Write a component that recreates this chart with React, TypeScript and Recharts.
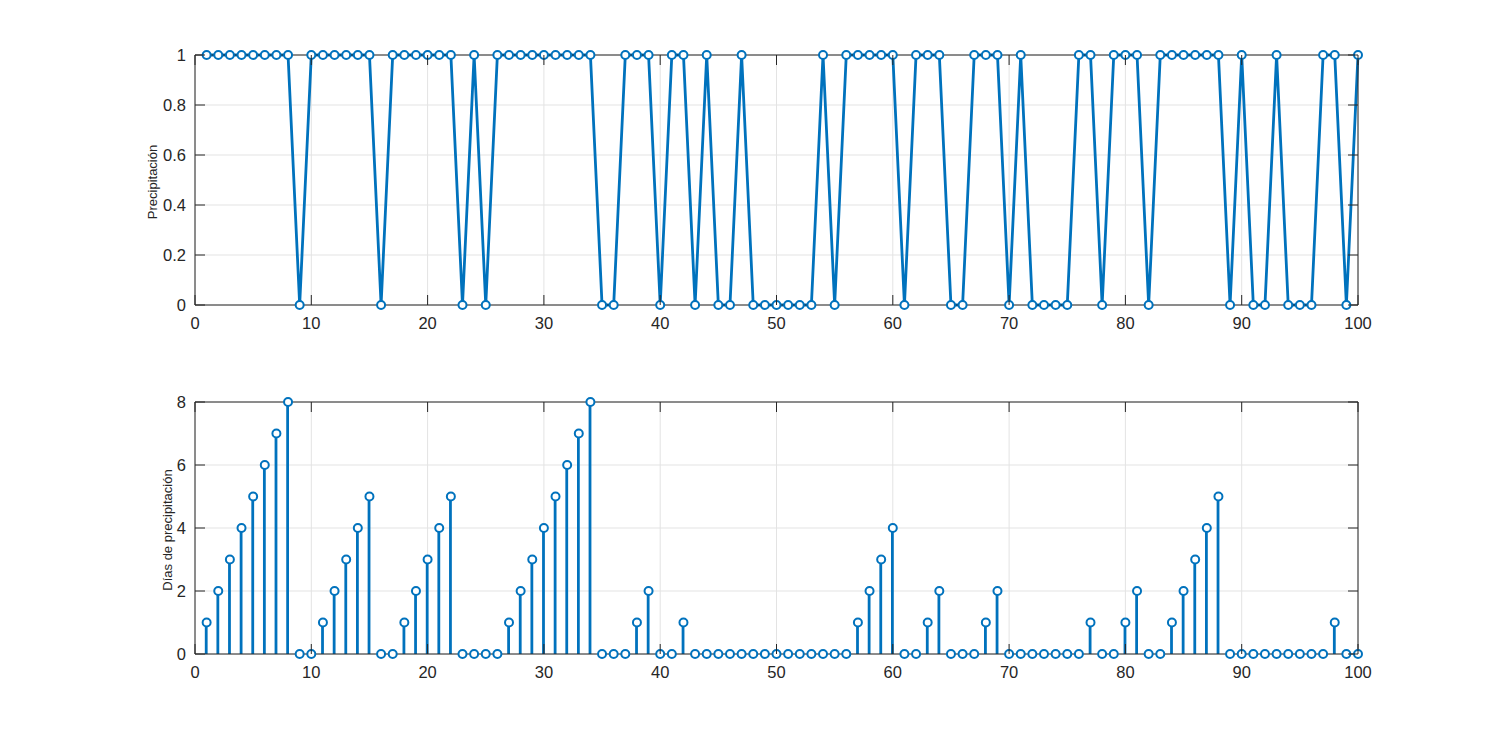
import React from 'react';
import { ComposedChart, LineChart, Line, Bar, Scatter, XAxis, YAxis, CartesianGrid } from 'recharts';

const days = Array.from({ length: 100 }, (_, i) => i + 1);

const precipitation = [
  1, 1, 1, 1, 1, 1, 1, 1, 0, 1,
  1, 1, 1, 1, 1, 0, 1, 1, 1, 1,
  1, 1, 0, 1, 0, 1, 1, 1, 1, 1,
  1, 1, 1, 1, 0, 0, 1, 1, 1, 0,
  1, 1, 0, 1, 0, 0, 1, 0, 0, 0,
  0, 0, 0, 1, 0, 1, 1, 1, 1, 1,
  0, 1, 1, 1, 0, 0, 1, 1, 1, 0,
  1, 0, 0, 0, 0, 1, 1, 0, 1, 1,
  1, 0, 1, 1, 1, 1, 1, 1, 0, 1,
  0, 0, 1, 0, 0, 0, 1, 1, 0, 1,
];

const rainDays = [
  1, 2, 3, 4, 5, 6, 7, 8, 0, 0,
  1, 2, 3, 4, 5, 0, 0, 1, 2, 3,
  4, 5, 0, 0, 0, 0, 1, 2, 3, 4,
  5, 6, 7, 8, 0, 0, 0, 1, 2, 0,
  0, 1, 0, 0, 0, 0, 0, 0, 0, 0,
  0, 0, 0, 0, 0, 0, 1, 2, 3, 4,
  0, 0, 1, 2, 0, 0, 0, 1, 2, 0,
  0, 0, 0, 0, 0, 0, 1, 0, 0, 1,
  2, 0, 0, 1, 2, 3, 4, 5, 0, 0,
  0, 0, 0, 0, 0, 0, 0, 1, 0, 0,
];

const xTicks = [0, 10, 20, 30, 40, 50, 60, 70, 80, 90, 100];
const topYTicks = [0, 0.2, 0.4, 0.6, 0.8, 1];
const bottomYTicks = [0, 2, 4, 6, 8];

const topData = days.map((d, i) => ({ day: d, p: precipitation[i] }));
const bottomData = days.map((d, i) => ({ day: d, n: rainDays[i] }));

const BLUE = '#0072BD';
const AXIS = '#262626';
const GRID = '#e3e3e3';
const FONT = '"Liberation Sans", Arial, Helvetica, sans-serif';
const TICK_LEN = 10;
const TICK_FONT = 16.5;

const BottomTick = (props: any) => {
  const { x, y, payload } = props;
  return (
    <g>
      <line x1={x} x2={x} y1={y} y2={y - TICK_LEN} stroke={AXIS} strokeWidth={1} />
      <text x={x} y={y + 18} textAnchor="middle" dominantBaseline="central" fontSize={TICK_FONT} fill={AXIS} fontFamily={FONT}>
        {payload.value}
      </text>
    </g>
  );
};

const TopTick = (props: any) => {
  const { x, y } = props;
  return <line x1={x} x2={x} y1={y} y2={y + TICK_LEN} stroke={AXIS} strokeWidth={1} />;
};

const LeftTick = (props: any) => {
  const { x, y, payload } = props;
  return (
    <g>
      <line x1={x} x2={x + TICK_LEN} y1={y} y2={y} stroke={AXIS} strokeWidth={1} />
      <text x={x - 9} y={y} textAnchor="end" dominantBaseline="central" fontSize={TICK_FONT} fill={AXIS} fontFamily={FONT}>
        {String(payload.value)}
      </text>
    </g>
  );
};

const RightTick = (props: any) => {
  const { x, y } = props;
  return <line x1={x} x2={x - TICK_LEN} y1={y} y2={y} stroke={AXIS} strokeWidth={1} />;
};

const yLabel = (text: string, cx: number, cy: number) => () => (
  <text
    x={cx}
    y={cy}
    transform={`rotate(-90 ${cx} ${cy})`}
    textAnchor="middle"
    dominantBaseline="central"
    fontSize={13}
    fill={AXIS}
    fontFamily={FONT}
  >
    {text}
  </text>
);

const marker = (props: any) => {
  const { cx, cy } = props;
  if (cx == null || cy == null) return <g />;
  return <circle cx={cx} cy={cy} r={4} fill="#fff" stroke={BLUE} strokeWidth={2} />;
};

const axisLine = { stroke: AXIS, strokeWidth: 1 };

// MATLAB-style box: bottom/left labelled, top/right only inward ticks
const boxAxes = (yDomain: number[], yTicks: number[], label: any) => [
  <XAxis
    key="xb"
    xAxisId="b"
    dataKey="day"
    type="number"
    domain={[0, 100]}
    ticks={xTicks}
    height={40}
    tickSize={0}
    tickMargin={0}
    tick={<BottomTick />}
    axisLine={axisLine}
    tickLine={false}
  />,
  <XAxis
    key="xt"
    xAxisId="t"
    orientation="top"
    dataKey="day"
    type="number"
    domain={[0, 100]}
    ticks={xTicks}
    height={1}
    tickSize={0}
    tickMargin={0}
    tick={<TopTick />}
    axisLine={axisLine}
    tickLine={false}
  />,
  <YAxis
    key="yl"
    yAxisId="l"
    type="number"
    domain={yDomain}
    ticks={yTicks}
    width={60}
    tickSize={0}
    tickMargin={0}
    tick={<LeftTick />}
    axisLine={axisLine}
    tickLine={false}
    label={label}
  />,
  <YAxis
    key="yr"
    yAxisId="r"
    orientation="right"
    type="number"
    domain={yDomain}
    ticks={yTicks}
    width={1}
    tickSize={0}
    tickMargin={0}
    tick={<RightTick />}
    axisLine={axisLine}
    tickLine={false}
  />,
];

export default function App() {
  return (
    <div style={{ position: 'absolute', left: 0, top: 0, width: 1500, height: 735, background: '#fff' }}>
      <LineChart width={1500} height={360} data={topData} margin={{ top: 54, right: 141, bottom: 15, left: 135 }}>
        <CartesianGrid xAxisId="b" yAxisId="l" stroke={GRID} strokeWidth={1} />
        {boxAxes([0, 1], topYTicks, { content: yLabel('Precipitación', 152, 182) })}
        <Line
          xAxisId="t"
          yAxisId="r"
          dataKey="p"
          stroke="none"
          dot={false}
          activeDot={false}
          isAnimationActive={false}
        />
        <Line
          xAxisId="b"
          yAxisId="l"
          type="linear"
          dataKey="p"
          stroke={BLUE}
          strokeWidth={2.8}
          dot={marker}
          activeDot={false}
          isAnimationActive={false}
        />
      </LineChart>
      <ComposedChart width={1500} height={375} data={bottomData} margin={{ top: 41, right: 141, bottom: 41, left: 135 }}>
        <CartesianGrid xAxisId="b" yAxisId="l" stroke={GRID} strokeWidth={1} />
        {boxAxes([0, 8], bottomYTicks, { content: yLabel('Días de precipitación', 167, 170) })}
        <Line
          xAxisId="t"
          yAxisId="r"
          dataKey="n"
          stroke="none"
          dot={false}
          activeDot={false}
          isAnimationActive={false}
        />
        <Bar xAxisId="b" yAxisId="l" dataKey="n" fill={BLUE} barSize={2.8} isAnimationActive={false} />
        <Scatter xAxisId="b" yAxisId="l" dataKey="n" shape={marker} isAnimationActive={false} />
      </ComposedChart>
    </div>
  );
}
